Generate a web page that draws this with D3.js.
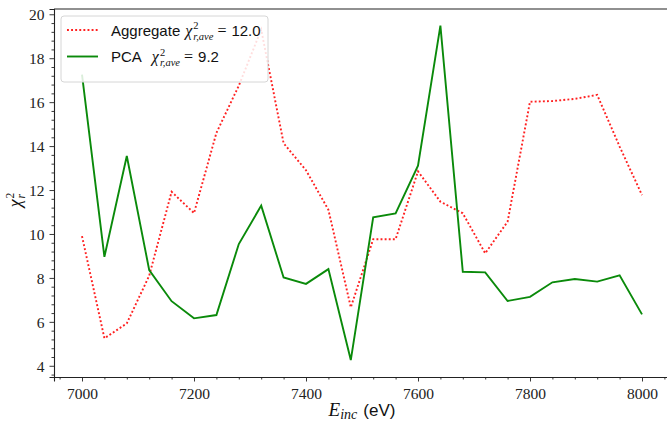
<!DOCTYPE html>
<html>
<head>
<meta charset="utf-8">
<script src="https://cdn.jsdelivr.net/npm/d3@7"></script>
<style>
  body { margin: 0; background: #fff; }
  svg { display: block; }
</style>
</head>
<body>
<svg id="chart" width="667" height="423"></svg>
<script>

// energies (eV), one point every 40 eV
let energies = [7000, 7040, 7080, 7120, 7160, 7200, 7240, 7280, 7320, 7360,
                7400, 7440, 7480, 7520, 7560, 7600, 7640, 7680, 7720, 7760,
                7800, 7840, 7880, 7920, 7960, 8000];

let aggregate = [9.9, 5.25, 5.93, 8.1, 11.92, 10.95, 14.6, 16.75, 19.3, 14.13,
                 12.9, 11.1, 6.66, 9.76, 9.76, 12.85, 11.47, 10.94, 9.12, 10.56,
                 16.02, 16.05, 16.15, 16.33, 13.98, 11.77];

let pca = [17.25, 8.96, 13.55, 8.36, 6.94, 6.16, 6.31, 9.54, 11.29, 8.02,
           7.73, 8.40, 4.26, 10.76, 10.94, 13.11, 19.48, 8.28, 8.25, 6.95,
           7.14, 7.80, 7.95, 7.83, 8.12, 6.34];

let x_ticks = [7000, 7200, 7400, 7600, 7800, 8000];
let y_ticks = [4, 6, 8, 10, 12, 14, 16, 18, 20];

let legend_names = ["Aggregate", "PCA"];
let legend_values = ["12.0", "9.2"];

let series_col = { aggregate: "#ff2020", pca: "#0a8a0a" };

let serif = "'Liberation Serif', 'DejaVu Serif', serif";
let sans = "'Liberation Sans', 'DejaVu Sans', sans-serif";

let svg = d3.select('#chart');
let margin = {left: 54, right: -3, top: 9, bottom: 46};
let W = +svg.attr('width'), H = +svg.attr('height');
let pw = W - margin.left - margin.right;
let ph = H - margin.top - margin.bottom;

let x = d3.scaleLinear().domain([6950, 8050]).range([0, pw]);
let y = d3.scaleLinear().domain([3.49, 20.24]).range([ph, 0]);

let g = svg.append('g')
    .attr('transform', 'translate(' + margin.left + ',' + margin.top + ')');

// minor ticks, every 40 eV and every 0.4
let x_minor = d3.range(6960, 8041, 40).filter(v => x_ticks.indexOf(v) < 0);
let y_minor = d3.range(3.6, 20.21, 0.4).map(v => +v.toFixed(1)).filter(v => y_ticks.indexOf(v) < 0);

let xAxis = g.append('g')
    .attr('transform', 'translate(0,' + ph + ')')
    .call(d3.axisBottom(x).tickValues(x_ticks).tickSize(4.5).tickPadding(5).tickFormat(d3.format('d')));
g.append('g')
    .attr('transform', 'translate(0,' + ph + ')')
    .call(d3.axisBottom(x).tickValues(x_minor).tickSize(2.5).tickFormat(''))
    .select('.domain').remove();

let yAxis = g.append('g')
    .call(d3.axisLeft(y).tickValues(y_ticks).tickSize(4.5).tickPadding(5));
g.append('g')
    .call(d3.axisLeft(y).tickValues(y_minor).tickSize(2.5).tickFormat(''))
    .select('.domain').remove();

g.selectAll('.tick line').attr('stroke', '#222').attr('stroke-width', 0.9);
g.selectAll('.domain').attr('stroke', '#222').attr('stroke-width', 1.1);
g.selectAll('.tick text')
    .style('font-family', serif).style('font-size', '15.5px').attr('fill', '#222');
yAxis.selectAll('.tick text').attr('dy', '0.34em');
xAxis.selectAll('.tick text').attr('dy', '0.8em');

// top + right spines
g.append('line').attr('x1', 0).attr('x2', pw).attr('y1', 0).attr('y2', 0)
    .attr('stroke', '#222').attr('stroke-width', 1.1);
g.append('line').attr('x1', pw).attr('x2', pw).attr('y1', 0).attr('y2', ph)
    .attr('stroke', '#222').attr('stroke-width', 1.1);

// lines
let lineFunc = d3.line()
    .x((d, i) => x(energies[i]))
    .y(d => y(d));

g.append('path')
    .attr('fill', 'none')
    .attr('stroke', series_col.aggregate)
    .attr('stroke-width', 1.9)
    .attr('stroke-dasharray', '1.9,2.2')
    .attr('d', lineFunc(aggregate));

g.append('path')
    .attr('fill', 'none')
    .attr('stroke', series_col.pca)
    .attr('stroke-width', 1.9)
    .attr('stroke-linejoin', 'miter')
    .attr('d', lineFunc(pca));

// lays out pieces of mixed-font text left to right, measuring each one
function rich_text(parent, x0, y0, pieces) {
    let cx = x0, lastStart = x0;
    pieces.forEach(p => {
        let start = p.stack ? lastStart : cx;
        let t = parent.append('text')
            .attr('x', start)
            .attr('y', y0 + (p.dy || 0))
            .style('font-family', p.font)
            .style('font-size', p.size + 'px')
            .style('font-style', p.italic ? 'italic' : 'normal')
            .attr('fill', '#111')
            .text(p.t);
        let w = t.node().getComputedTextLength();
        if (!p.stack) { lastStart = start; cx = start + w + (p.gap || 0); }
        else { cx = Math.max(cx, start + w + (p.gap || 0)); }
    });
    return cx - x0;
}

function chi_pieces(name, value, extra) {
    return [
        {t: name, font: sans, size: 15, gap: extra},
        {t: 'χ', font: serif, size: 16, italic: true, gap: 1},
        {t: '2', font: serif, size: 10.5, dy: -6.5},
        {t: 'r,ave', font: serif, size: 10.5, italic: true, dy: 4, stack: true, gap: 4},
        {t: '=', font: serif, size: 16, gap: 5},
        {t: value, font: sans, size: 15}
    ];
}

// legend
let leg = svg.append('g');
leg.append('rect')
    .attr('x', 61).attr('y', 16).attr('width', 207).attr('height', 66)
    .attr('rx', 3).attr('fill', 'white').attr('fill-opacity', 0.85)
    .attr('stroke', '#d6d6d6').attr('stroke-width', 1);

let rows = [{key: 'aggregate', dash: '1.9,2.2'}, {key: 'pca', dash: null}];
rows.forEach((r, i) => {
    let ly = 30 + i * 26.5;
    leg.append('line')
        .attr('x1', 67).attr('x2', 98).attr('y1', ly).attr('y2', ly)
        .attr('stroke', series_col[r.key]).attr('stroke-width', 1.9)
        .attr('stroke-dasharray', r.dash);
    rich_text(leg, 111, ly + 5.5, chi_pieces(legend_names[i], legend_values[i], i === 0 ? 5 : 10));
});

// x label
let xl = svg.append('g');
let xw = rich_text(xl, 0, 416, [
    {t: 'E', font: serif, size: 19, italic: true, gap: 0},
    {t: 'inc', font: serif, size: 14, italic: true, dy: 3, gap: 6},
    {t: '(eV)', font: sans, size: 17}
]);
xl.attr('transform', 'translate(' + (margin.left + x(7500) - xw / 2) + ',0)');

// y label, rotated
let yl = svg.append('g');
let yw = rich_text(yl, 0, 0, [
    {t: 'χ', font: serif, size: 18, italic: true, gap: 1},
    {t: '2', font: serif, size: 11.5, dy: -7.5},
    {t: 'r', font: serif, size: 11.5, italic: true, dy: 4, stack: true}
]);
yl.attr('transform', 'translate(21,' + (margin.top + ph / 2 + yw / 2 + 7) + ') rotate(-90)');

</script>
</body>
</html>
